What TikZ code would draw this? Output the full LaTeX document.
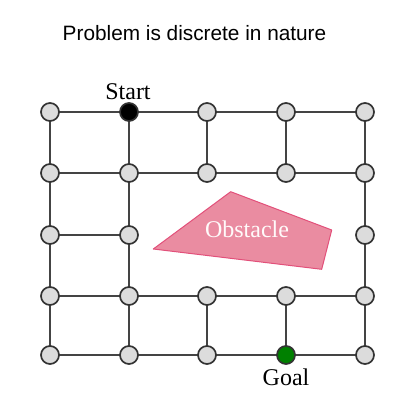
\documentclass[tikz,border=0pt]{standalone}
\usepackage{fontspec}
\setmainfont{Liberation Serif}
\newfontfamily\titlefont{Liberation Sans}
\definecolor{edgec}{HTML}{444444}
\definecolor{nodeborder}{HTML}{333333}
\definecolor{nodec}{HTML}{DCDCDC}
\definecolor{obsfill}{HTML}{EA8CA1}
\definecolor{obsdraw}{HTML}{E2507A}
\definecolor{goalc}{HTML}{008000}
\begin{document}
\begin{tikzpicture}[x=1pt,y=-1pt,
  vtx/.style={circle,draw=nodeborder,line width=1.7pt,fill=nodec,minimum size=18pt,inner sep=0pt},
  edge/.style={draw=edgec,line width=1.8pt},
  lbl/.style={font=\fontsize{24}{28}\selectfont,anchor=base,inner sep=0pt}]
\useasboundingbox (0,0) rectangle (402,408);
\node[font=\titlefont\fontsize{20.8}{24}\selectfont,anchor=base,inner sep=0pt] (title) at (194.5,40) {Problem is discrete in nature};
% obstacle
\draw[fill=obsfill,draw=obsdraw,line width=1pt,line join=round] (230.7,191.7) -- (331.7,230) -- (321.7,269.3) -- (153.3,249) -- cycle;
\node[lbl,text=white!92!pink] (obs) at (247,237) {Obstacle};
% vertices
\foreach \c/\x in {0/50,1/129,2/207,3/286,4/365}{
  \foreach \r/\y in {0/112,1/173,2/235,3/296,4/355}{
    \coordinate (p\c\r) at (\x,\y);
  }
}
% edges
\foreach \r in {0,1,3,4}{
  \draw[edge] (p0\r) -- (p1\r) -- (p2\r) -- (p3\r) -- (p4\r);
}
\draw[edge] (p02) -- (p12);
\draw[edge] (p00) -- (p04);
\draw[edge] (p10) -- (p14);
\draw[edge] (p40) -- (p44);
\draw[edge] (p20) -- (p21);
\draw[edge] (p23) -- (p24);
\draw[edge] (p30) -- (p31);
\draw[edge] (p33) -- (p34);
% nodes
\foreach \c in {0,...,4}{
  \foreach \r in {0,...,4}{
    \ifnum\c\r=10\relax\else\ifnum\c\r=34\relax\else
    \ifnum\c\r=22\relax\else\ifnum\c\r=32\relax\else
    \node[vtx] (n\c\r) at (p\c\r) {};
    \fi\fi\fi\fi
  }
}
\node[vtx,fill=black] (start) at (p10) {};
\node[vtx,fill=goalc] (goal) at (p34) {};
\node[lbl] (startlbl) at (128,99) {Start};
\node[lbl] (goallbl) at (286,385) {Goal};
\end{tikzpicture}
\end{document}
